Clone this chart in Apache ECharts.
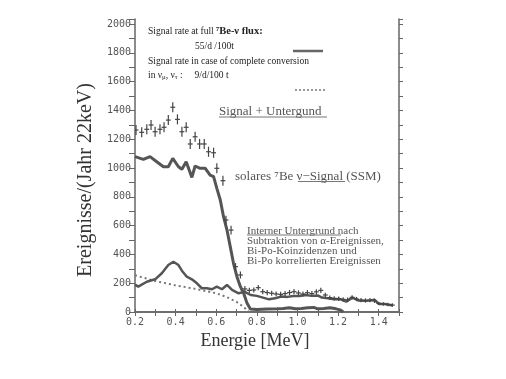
<!DOCTYPE html>
<html>
<head>
<meta charset="utf-8">
<script src="https://cdn.jsdelivr.net/npm/echarts@6/dist/echarts.min.js"></script>
<style>
  html, body { margin: 0; padding: 0; background: #fff; }
  #chart { width: 506px; height: 379px; }
</style>
</head>
<body>
<div id="chart"></div>
<script>
// x tick labels shown (every 0.2 MeV)
var xTickLabels = ["0.2", "0.4", "0.6", "0.8", "1.0", "1.2", "1.4"];
var yTickLabels = ["0", "200", "400", "600", "800", "1000", "1200", "1400", "1600", "1800", "2000"];

// measured spectrum: Signal + Untergrund (energy MeV, events, error)
var dataEnergy = [0.205, 0.233, 0.258, 0.279, 0.299, 0.323, 0.343, 0.364, 0.386, 0.409,
  0.431, 0.452, 0.472, 0.496, 0.518, 0.541, 0.562, 0.587, 0.603, 0.633,
  0.648, 0.673, 0.695, 0.719, 0.741, 0.763, 0.785, 0.807, 0.829, 0.851,
  0.873, 0.895, 0.917, 0.939, 0.961, 0.983, 1.005, 1.027, 1.049, 1.071,
  1.093, 1.115, 1.137, 1.159, 1.181, 1.203, 1.225, 1.247, 1.269, 1.291,
  1.313, 1.335, 1.357, 1.379, 1.401, 1.423, 1.445, 1.467];
var dataCounts = [1264, 1248, 1269, 1299, 1252, 1269, 1283, 1333, 1422, 1338,
  1252, 1283, 1167, 1217, 1167, 1167, 1113, 1106, 998, 912,
  639, 569, 315, 257, 160, 150, 153, 169, 141, 135,
  130, 125, 122, 128, 135, 141, 132, 125, 134, 128,
  140, 150, 118, 100, 95, 92, 88, 85, 102, 90,
  83, 80, 83, 78, 60, 55, 52, 48];
var dataErrors = [35, 35, 35, 35, 35, 35, 35, 35, 35, 35,
  35, 35, 35, 35, 35, 35, 35, 35, 35, 35,
  30, 30, 25, 25, 20, 18, 18, 18, 18, 18,
  18, 18, 18, 18, 18, 18, 18, 18, 18, 18,
  18, 18, 15, 15, 15, 15, 15, 15, 15, 15,
  15, 15, 15, 15, 12, 12, 12, 12];

// solares 7Be nu-Signal (SSM)
var signalEnergy = [0.2, 0.241, 0.274, 0.307, 0.340, 0.364, 0.386, 0.414, 0.431, 0.452,
  0.480, 0.496, 0.521, 0.546, 0.570, 0.587, 0.603, 0.620, 0.636, 0.653,
  0.669, 0.685, 0.702, 0.719, 0.735, 0.752, 0.768, 0.80, 0.85, 0.90,
  0.93, 0.96, 0.99, 1.02, 1.05, 1.08, 1.10, 1.13, 1.16, 1.19, 1.21, 1.225];
var signalCounts = [1079, 1060, 1079, 1044, 1009, 1009, 1067, 1009, 991, 1044,
  935, 1014, 998, 998, 951, 940, 859, 778, 662, 569,
  454, 338, 245, 176, 130, 60, 21, 18, 20, 22,
  25, 30, 22, 24, 30, 32, 22, 25, 30, 22, 15, 0];

// Interner Untergrund
var bgEnergy = [0.2, 0.216, 0.258, 0.299, 0.332, 0.364, 0.389, 0.414, 0.431, 0.455,
  0.480, 0.505, 0.529, 0.554, 0.579, 0.603, 0.628, 0.653, 0.678, 0.710,
  0.74, 0.77, 0.80, 0.83, 0.86, 0.89, 0.92, 0.95, 0.98, 1.01,
  1.04, 1.07, 1.10, 1.12, 1.15, 1.18, 1.21, 1.24, 1.27, 1.30,
  1.33, 1.36, 1.38, 1.40, 1.43, 1.47];
var bgCounts = [190, 176, 210, 227, 269, 326, 349, 326, 287, 245,
  227, 199, 165, 165, 158, 176, 158, 188, 153, 130,
  140, 118, 112, 100, 88, 95, 108, 105, 111, 111,
  118, 112, 115, 100, 95, 88, 90, 72, 100, 80,
  78, 80, 85, 56, 55, 45];

// conversion case (dotted)
var convEnergy = [0.2, 0.3, 0.4, 0.5, 0.6, 0.65, 0.7, 0.73, 0.76];
var convCounts = [255, 215, 185, 160, 130, 105, 70, 40, 5];

function zip(a, b, c) {
  return a.map(function (v, i) { return c ? [v, b[i], c[i]] : [v, b[i]]; });
}

var chart = echarts.init(document.getElementById("chart"), null, { renderer: "canvas" });

var axisGray = "#666";
var serif = "'Liberation Serif', 'DejaVu Serif', serif";

var option = {
  backgroundColor: "#fff",
  animation: false,
  grid: { left: 135, right: 107, top: 19, bottom: 67, outerBoundsMode: "none" },
  xAxis: [
    {
      type: "value", min: 0.2, max: 1.5, interval: 0.1,
      axisLine: { lineStyle: { color: axisGray, width: 1.5 } },
      axisTick: { inside: false, length: 4, lineStyle: { color: axisGray } },
      splitLine: { show: false },
      axisLabel: {
        color: "#555", fontSize: 10, fontFamily: "'DejaVu Sans Mono', monospace", margin: 5,
        formatter: function (v) {
          var s = v.toFixed(1);
          return xTickLabels.indexOf(s) >= 0 ? s : "";
        }
      }
    },
    {
      type: "value", position: "top", min: 0.2, max: 1.5, interval: 0.1,
      axisLine: { lineStyle: { color: axisGray, width: 1.5 } },
      axisTick: { length: 3, lineStyle: { color: axisGray } },
      axisLabel: { show: false }, splitLine: { show: false }
    }
  ],
  yAxis: [
    {
      type: "value", min: 0, max: 2035, interval: 100,
      axisLine: { show: true, lineStyle: { color: axisGray, width: 1.5 } },
      axisTick: { show: true, length: 6, lineStyle: { color: axisGray } },
      splitLine: { show: false },
      axisLabel: {
        color: "#555", fontSize: 10, fontFamily: "'DejaVu Sans Mono', monospace", margin: 4,
        formatter: function (v) {
          var s = String(Math.round(v));
          return yTickLabels.indexOf(s) >= 0 && Math.round(v) === v ? s : "";
        }
      }
    },
    {
      type: "value", position: "right", min: 0, max: 2035, interval: 100,
      axisLine: { show: true, lineStyle: { color: axisGray, width: 1.5 } },
      axisTick: { show: true, length: 4, lineStyle: { color: axisGray } },
      axisLabel: { show: false }, splitLine: { show: false }
    }
  ],
  series: [
    {
      name: "Interner Untergrund", type: "line", data: zip(bgEnergy, bgCounts),
      showSymbol: false, lineStyle: { color: "#555", width: 2.5 }, z: 3
    },
    {
      name: "Konversion", type: "line", data: zip(convEnergy, convCounts),
      showSymbol: false, lineStyle: { color: "#777", width: 2, type: [2, 3] }, z: 2
    },
    {
      name: "solares 7Be Signal", type: "line", data: zip(signalEnergy, signalCounts),
      showSymbol: false, lineStyle: { color: "#555", width: 3 }, z: 4
    },
    {
      name: "Signal + Untergrund", type: "custom", clip: true, z: 5,
      data: zip(dataEnergy, dataCounts, dataErrors),
      renderItem: function (params, api) {
        var e = api.value(0), v = api.value(1), err = api.value(2);
        var top = api.coord([e, v + err]);
        var bot = api.coord([e, v - err]);
        var left = api.coord([e - 0.012, v]);
        var right = api.coord([e + 0.012, v]);
        var st = { stroke: "#444", lineWidth: 1.2 };
        return {
          type: "group",
          children: [
            { type: "line", shape: { x1: top[0], y1: top[1], x2: bot[0], y2: bot[1] }, style: st },
            { type: "line", shape: { x1: left[0], y1: left[1], x2: right[0], y2: right[1] }, style: st }
          ]
        };
      }
    }
  ],
  graphic: [
    { type: "text", x: 86, y: 180, rotation: Math.PI / 2,
      style: { text: "Ereignisse/(Jahr 22keV)", font: "20px " + serif, fill: "#333", align: "center", verticalAlign: "middle" } },
    { type: "text", x: 255, y: 341,
      style: { text: "Energie [MeV]", font: "18px " + serif, fill: "#333", align: "center", verticalAlign: "middle" } },

    // key box
    { type: "text", x: 148, y: 31,
      style: { text: "Signal rate at full {b|⁷Be-ν flux:}", font: "9.5px " + serif, fill: "#222", verticalAlign: "middle",
        rich: { b: { font: "bold 10.5px " + serif, fill: "#222" } } } },
    { type: "text", x: 195, y: 46,
      style: { text: "55/d /100t", font: "9.5px " + serif, fill: "#222", verticalAlign: "middle" } },
    { type: "text", x: 148, y: 61,
      style: { text: "Signal rate in case of complete conversion", font: "9.5px " + serif, fill: "#222", verticalAlign: "middle" } },
    { type: "text", x: 148, y: 75,
      style: { text: "in ν{s|μ}, ν{s|τ} :     9/d/100 t", font: "9.5px " + serif, fill: "#222", verticalAlign: "middle",
        rich: { s: { font: "7px " + serif, fill: "#222", padding: [4, 0, 0, 0] } } } },
    { type: "line", shape: { x1: 293, y1: 51, x2: 323, y2: 51 }, style: { stroke: "#666", lineWidth: 2.5 } },
    { type: "line", shape: { x1: 295, y1: 90, x2: 325, y2: 90 }, style: { stroke: "#777", lineWidth: 1.5, lineDash: [2, 2] } },

    // annotations
    { type: "text", x: 219, y: 112,
      style: { text: "Signal + Untergund", font: "13px " + serif, fill: "#555", verticalAlign: "middle" } },
    { type: "line", shape: { x1: 219, y1: 117, x2: 327, y2: 117 }, style: { stroke: "#777", lineWidth: 1 } },
    { type: "text", x: 235, y: 177,
      style: { text: "solares ⁷Be ν−Signal (SSM)", font: "13px " + serif, fill: "#555", verticalAlign: "middle" } },
    { type: "line", shape: { x1: 298, y1: 181.5, x2: 345, y2: 181.5 }, style: { stroke: "#777", lineWidth: 1 } },
    { type: "text", x: 247, y: 226,
      style: { text: "Interner Untergrund nach\nSubtraktion von α-Ereignissen,\nBi-Po-Koinzidenzen und\nBi-Po korrelierten Ereignissen",
        font: "11px " + serif, fill: "#555", verticalAlign: "top", lineHeight: 10 } },
    { type: "line", shape: { x1: 247, y1: 235, x2: 341, y2: 235 }, style: { stroke: "#777", lineWidth: 1 } }
  ]
};

chart.setOption(option);
</script>
</body>
</html>
